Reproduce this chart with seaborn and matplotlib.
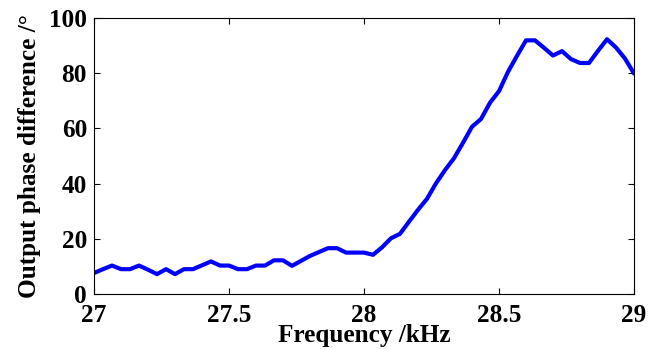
import numpy as np
import pandas as pd
import matplotlib
matplotlib.use("Agg")
import matplotlib.pyplot as plt
import seaborn as sns

# Measured output phase difference versus drive frequency
freq_khz = [27 + i / 30 for i in range(61)]
phase_deg = [
    7.6, 9.0, 10.3, 9.0, 9.0, 10.3, 8.8, 7.2, 9.0, 7.2,
    9.0, 9.0, 10.4, 11.8, 10.3, 10.3, 9.0, 9.0, 10.3, 10.3,
    12.2, 12.2, 10.2, 12.0, 13.8, 15.2, 16.6, 16.6, 15.0, 15.0,
    15.0, 14.2, 16.9, 20.2, 21.8, 26.2, 30.5, 34.5, 40.1, 44.9,
    49.2, 54.8, 60.6, 63.4, 69.3, 73.5, 80.5, 86.3, 91.9, 91.9,
    89.2, 86.4, 88.0, 85.1, 83.7, 83.7, 88.1, 92.3, 89.3, 85.3,
    79.9,
]
x_ticks = [27, 27.5, 28, 28.5, 29]
x_tick_labels = ["27", "27.5", "28", "28.5", "29"]
y_ticks = [0, 20, 40, 60, 80, 100]

sns.set_style("ticks")
plt.rcParams["font.family"] = ["Liberation Serif", "DejaVu Serif"]
plt.rcParams["font.weight"] = "bold"
plt.rcParams["text.color"] = "black"
plt.rcParams["axes.labelcolor"] = "black"

df = pd.DataFrame({"f": freq_khz, "phase": phase_deg})

fig = plt.figure(figsize=(6.59, 3.49), dpi=100)
ax = fig.add_axes([94 / 659, 1 - 294 / 349, 540 / 659, 276 / 349])
sns.lineplot(data=df, x="f", y="phase", ax=ax, color="#0000ff", linewidth=3.0)

ax.set_xlim(27, 29)
ax.set_ylim(0, 100)
ax.set_xticks(x_ticks)
ax.set_xticklabels(x_tick_labels)
ax.set_yticks(y_ticks)
ax.tick_params(direction="in", length=4, width=0.8, top=True, right=True,
               labelsize=18.2, colors="black", labelcolor="black")
ax.tick_params(axis="x", pad=7)
ax.tick_params(axis="y", pad=5)
for lab in ax.get_xticklabels() + ax.get_yticklabels():
    lab.set_fontweight("bold")
for sp in ax.spines.values():
    sp.set_visible(True)
    sp.set_linewidth(0.8)
    sp.set_color("black")

ax.set_xlabel("Frequency /kHz", fontsize=18.2, fontweight="bold", labelpad=-2, color="black")
ax.set_ylabel("Output phase difference /°", fontsize=18.2, fontweight="bold", labelpad=6, color="black")

fig.savefig("out.png", dpi=100)
